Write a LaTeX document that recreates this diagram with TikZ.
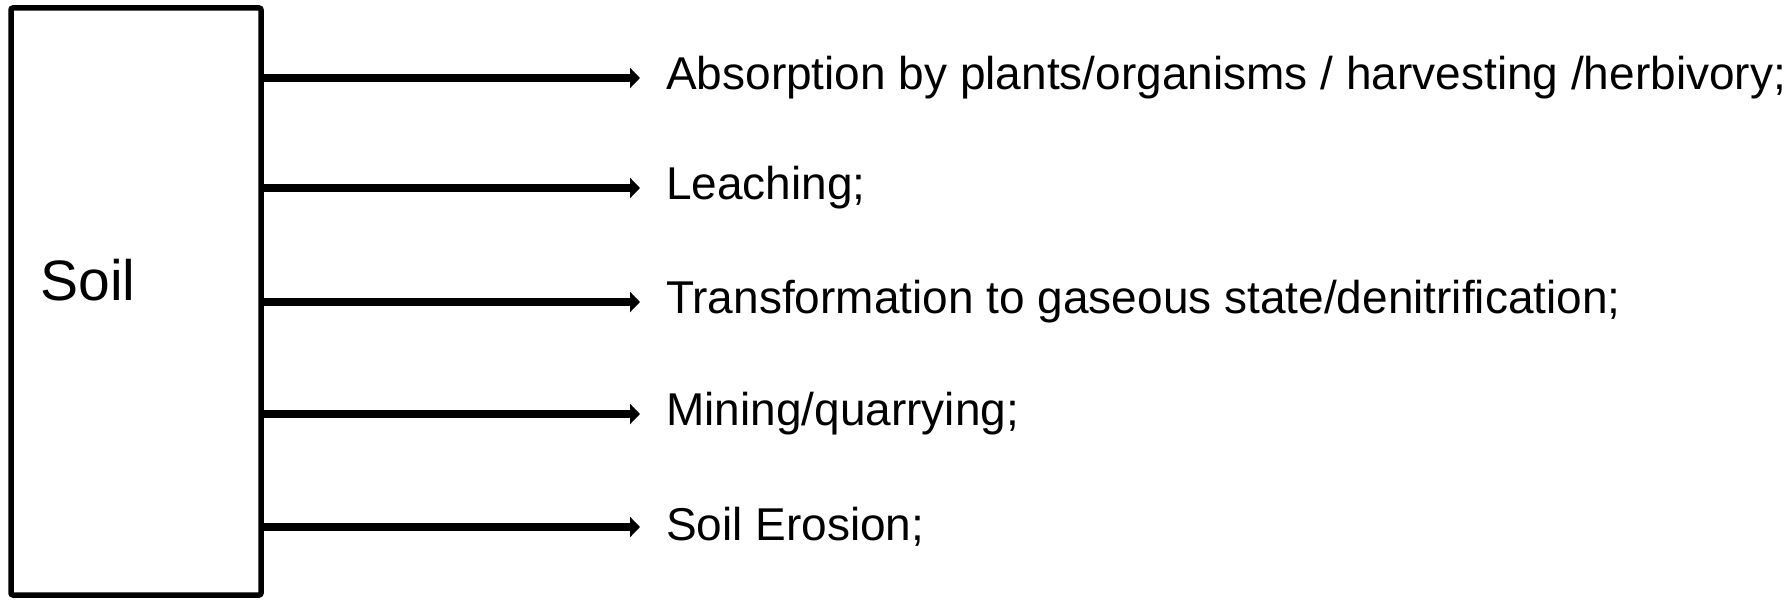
\documentclass[tikz,border=0pt]{standalone}
\usepackage{fontspec}
\setmainfont{Liberation Sans}
\usetikzlibrary{arrows.meta}
\begin{document}
\begin{tikzpicture}[x=1pt,y=-1pt,
  soilbox/.style={draw=black,line width=5.5pt,rounded corners=2pt},
  flow/.style={line width=8pt,-{Triangle[length=10pt,width=20pt]}},
  outlabel/.style={anchor=west,inner sep=0pt,font=\fontsize{46}{52}\selectfont},
  soillabel/.style={inner sep=0pt,font=\fontsize{57}{62}\selectfont}]
\useasboundingbox (0,0) rectangle (1789,601);
\draw[soilbox] (11,8) rectangle (261,595);
\node[soillabel] (soil) at (88,280) {Soil};
\foreach \y/\n/\t in {78/a/{Absorption by plants/organisms / harvesting /herbivory;},
                      188/b/{Leaching;},
                      302/c/{Transformation to gaseous state/denitrification;},
                      414/d/{Mining/quarrying;},
                      527/e/{Soil Erosion;}}{
  \coordinate (s\n) at (261,\y);
  \node[outlabel] (\n) at (666,\y) {\t};
  \coordinate (t\n) at (640,\y);
  \draw[flow] (s\n) -- (t\n);
}
\end{tikzpicture}
\end{document}
